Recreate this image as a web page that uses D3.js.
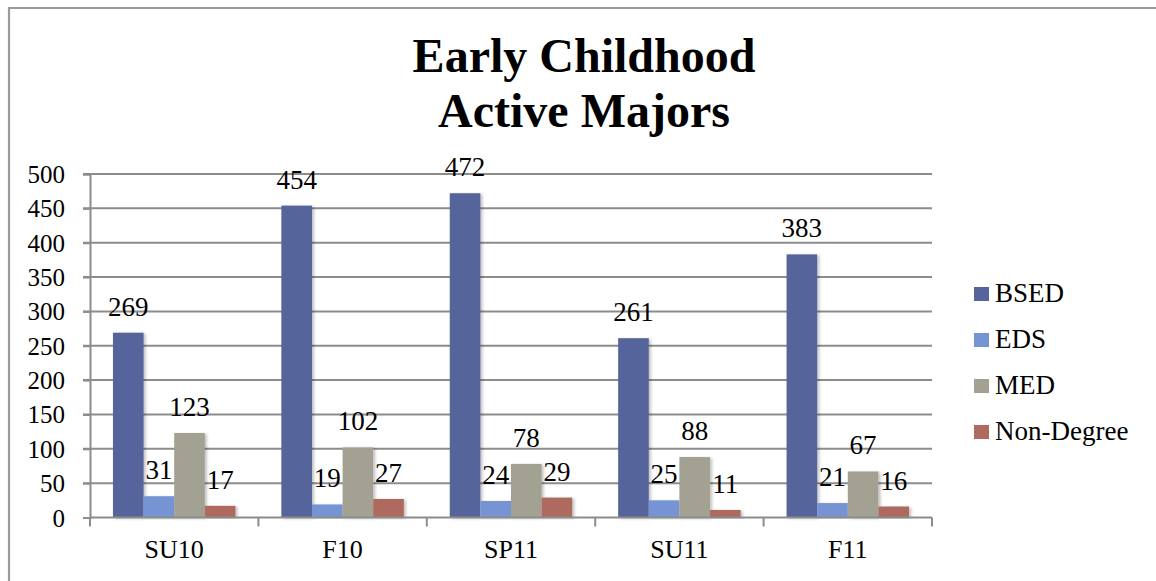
<!DOCTYPE html>
<html><head><meta charset="utf-8">
<script src="https://cdn.jsdelivr.net/npm/d3@7/dist/d3.min.js"></script>
<style>
html,body{margin:0;padding:0;background:#fff;}
svg{display:block;}
</style></head>
<body>
<svg id="chart" width="1156" height="581"></svg>
<script>
const categories = ["SU10", "F10", "SP11", "SU11", "F11"];
const seriesNames = ["BSED", "EDS", "MED", "Non-Degree"];
const BSED = [269, 454, 472, 261, 383];
const EDS = [31, 19, 24, 25, 21];
const MED = [123, 102, 78, 88, 67];
const NonDegree = [17, 27, 29, 11, 16];
const yTicks = [0, 50, 100, 150, 200, 250, 300, 350, 400, 450, 500];
const titleLines = ["Early Childhood", "Active Majors"];
const colors = ["#55659c", "#7694d3", "#a3a192", "#ae6a5e"];
const FONT = "Liberation Serif";

const seriesValues = [BSED, EDS, MED, NonDegree];
const svg = d3.select("#chart").attr("font-family", FONT);

// outer frame
svg.append("path").attr("d", "M9,581 V8 H1156").attr("fill", "none")
  .attr("stroke", "#9a9a9a").attr("stroke-width", 2.2);

const defs = svg.append("defs");
const f = defs.append("filter").attr("id", "sh").attr("x", "-20%").attr("y", "-5%").attr("width", "150%").attr("height", "115%");
f.append("feDropShadow").attr("dx", 2).attr("dy", 1).attr("stdDeviation", 1.5).attr("flood-color", "#000").attr("flood-opacity", 0.25);

const pLeft = 90, pRight = 932, pTop = 174, pBottom = 517.5;
const x = d3.scaleBand().domain(categories).range([pLeft, pRight]).paddingInner(0).paddingOuter(0);
const bandW = x.bandwidth();
const barW = bandW / 5.5;
const xs = d3.scaleBand().domain(seriesNames).range([0.75 * barW, 0.75 * barW + 4 * barW]).padding(0);
const y = d3.scaleLinear().domain([0, 500]).range([pBottom, pTop]);

// gridlines
svg.append("g").selectAll("line").data(yTicks.filter(d => d > 0)).join("line")
  .attr("x1", pLeft - 7).attr("x2", pRight).attr("y1", d => y(d)).attr("y2", d => y(d))
  .attr("stroke", "#8c8c8c").attr("stroke-width", 2);

// y axis
const yAxis = d3.axisLeft(y).tickValues(yTicks).tickSize(7).tickPadding(18);
const gy = svg.append("g").attr("transform", `translate(${pLeft},0)`).call(yAxis);
gy.attr("font-family", FONT);
gy.select(".domain").attr("stroke", "#8c8c8c").attr("stroke-width", 2);
gy.selectAll(".tick line").attr("stroke", "#8c8c8c").attr("stroke-width", 2);
gy.selectAll(".tick text").attr("font-family", FONT).attr("font-size", 25).attr("fill", "#000").attr("dy", "0.34em");

// bars
const groups = svg.append("g").selectAll("g").data(categories).join("g")
  .attr("transform", d => `translate(${x(d)},0)`);
groups.each(function(cat, ci) {
  const g = d3.select(this);
  seriesNames.forEach((s, si) => {
    const v = seriesValues[si][ci];
    g.append("rect").attr("x", xs(s)).attr("width", xs.bandwidth())
      .attr("y", y(v)).attr("height", y(0) - y(v))
      .attr("fill", colors[si]).attr("filter", "url(#sh)");
  });
});

// x axis
const xAxis = d3.axisBottom(x).tickSize(0).tickPadding(22);
const gx = svg.append("g").attr("transform", `translate(0,${pBottom})`).call(xAxis);
gx.attr("font-family", FONT);
gx.select(".domain").remove();
gx.selectAll(".tick text").attr("font-family", FONT).attr("font-size", 26).attr("fill", "#000").attr("dy", "0.71em");
svg.append("line").attr("x1", pLeft).attr("x2", pRight).attr("y1", pBottom).attr("y2", pBottom)
  .attr("stroke", "#8c8c8c").attr("stroke-width", 2);
svg.append("g").selectAll("line").data(d3.range(categories.length + 1)).join("line")
  .attr("x1", i => pLeft + i * bandW).attr("x2", i => pLeft + i * bandW)
  .attr("y1", pBottom).attr("y2", pBottom + 9)
  .attr("stroke", "#8c8c8c").attr("stroke-width", 2);

// data labels
groups.each(function(cat, ci) {
  const g = d3.select(this);
  seriesNames.forEach((s, si) => {
    const v = seriesValues[si][ci];
    g.append("text").attr("x", xs(s) + xs.bandwidth() / 2).attr("y", y(v) - 17)
      .attr("text-anchor", "middle").attr("font-family", FONT).attr("font-size", 27).attr("fill", "#000").text(v);
  });
});

// title
svg.append("g").selectAll("text").data(titleLines).join("text")
  .attr("x", 584).attr("y", (d, i) => 72 + i * 55)
  .attr("text-anchor", "middle").attr("font-family", FONT).attr("font-weight", "bold").attr("font-size", 48)
  .attr("fill", "#000").text(d => d);

// legend
const lg = svg.append("g").selectAll("g").data(seriesNames).join("g")
  .attr("transform", (d, i) => `translate(974,${302 + i * 46})`);
lg.append("rect").attr("x", 0).attr("y", -15).attr("width", 15).attr("height", 14)
  .attr("fill", (d, i) => colors[i]);
lg.append("text").attr("x", 21).attr("y", 0).attr("font-family", FONT).attr("font-size", 27).attr("fill", "#000").text(d => d);
</script>
</body></html>
